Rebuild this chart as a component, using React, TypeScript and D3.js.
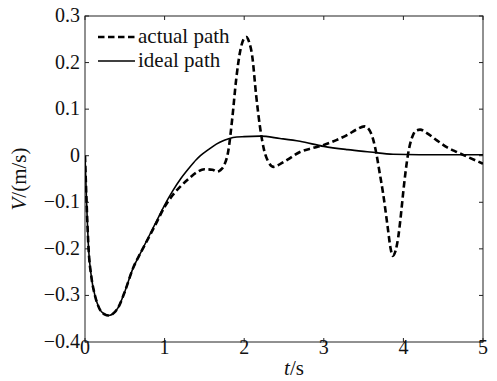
import React from "react";
import * as d3 from "d3";

// Time samples (s) and velocity (m/s) for the ideal path
const idealT = [0, 0.02, 0.045, 0.08, 0.125, 0.18, 0.24, 0.3, 0.36, 0.42, 0.5, 0.6, 0.7, 0.8, 0.9, 1.0, 1.1, 1.2, 1.3, 1.4, 1.45, 1.55, 1.65, 1.75, 1.86, 2.0, 2.2, 2.45, 2.7, 3.0, 3.3, 3.58, 3.87, 4.2, 4.6, 5.0];
const idealV = [0, -0.1, -0.2, -0.26, -0.3, -0.328, -0.34, -0.343, -0.338, -0.325, -0.292, -0.243, -0.208, -0.174, -0.14, -0.106, -0.076, -0.05, -0.028, -0.008, 0.0, 0.013, 0.025, 0.033, 0.039, 0.041, 0.042, 0.037, 0.031, 0.02, 0.013, 0.008, 0.003, 0.002, 0.002, 0.002];

// Time samples (s) and velocity (m/s) for the actual path
const actualT = [0, 0.02, 0.045, 0.08, 0.125, 0.18, 0.24, 0.3, 0.36, 0.42, 0.5, 0.6, 0.7, 0.8, 0.9, 1.0, 1.1, 1.2, 1.3, 1.4, 1.5, 1.6, 1.66, 1.7, 1.75, 1.8, 1.85, 1.9, 1.95, 2.0, 2.03, 2.06, 2.1, 2.15, 2.2, 2.25, 2.3, 2.37, 2.45, 2.55, 2.7, 2.85, 3.0, 3.15, 3.3, 3.42, 3.51, 3.56, 3.62, 3.66, 3.7, 3.745, 3.8, 3.84, 3.865, 3.9, 3.935, 3.97, 4.0, 4.06, 4.12, 4.16, 4.21, 4.3, 4.42, 4.55, 4.67, 4.8, 5.0];
const actualV = [0, -0.1, -0.2, -0.26, -0.3, -0.328, -0.34, -0.343, -0.338, -0.325, -0.292, -0.243, -0.208, -0.176, -0.143, -0.11, -0.085, -0.066, -0.05, -0.036, -0.029, -0.03, -0.034, -0.031, -0.02, 0.01, 0.08, 0.165, 0.225, 0.252, 0.255, 0.245, 0.215, 0.13, 0.06, 0.012, -0.012, -0.024, -0.018, -0.008, 0.008, 0.016, 0.023, 0.033, 0.045, 0.057, 0.063, 0.058, 0.035, 0.005, -0.035, -0.081, -0.15, -0.2, -0.215, -0.205, -0.175, -0.125, -0.075, 0.005, 0.044, 0.054, 0.056, 0.048, 0.033, 0.018, 0.008, -0.002, -0.017];

const xTicks = [0, 1, 2, 3, 4, 5];
const yTicks = [0.3, 0.2, 0.1, 0, -0.1, -0.2, -0.3, -0.4];
const seriesNames = ["actual path", "ideal path"];

const W = 497;
const H = 381;
const left = 85;
const right = 483;
const top = 16;
const bottom = 342;
const serif = '"Liberation Serif", "Times New Roman", serif';

export default function App() {
  const x = d3.scaleLinear().domain([0, 5]).range([left, right]);
  const y = d3.scaleLinear().domain([-0.4, 0.3]).range([bottom, top]);

  const line = d3
    .line<[number, number]>()
    .x((d) => x(d[0]))
    .y((d) => y(d[1]))
    .curve(d3.curveMonotoneX);

  const idealPts = idealT.map((t, i) => [t, idealV[i]] as [number, number]);
  const actualPts = actualT.map((t, i) => [t, actualV[i]] as [number, number]);

  const fmtY = (v: number) => (v === 0 ? "0" : (v < 0 ? "\u2212" : "") + Math.abs(v).toFixed(1));
  const tickLen = 4;
  const axisColor = "#222";

  return (
    <svg width={W} height={H} style={{ position: "absolute", left: 0, top: 0, background: "#fff" }} fontFamily={serif}>
      <rect x={0} y={0} width={W} height={H} fill="#fff" />
      <defs>
        <clipPath id="plot-clip">
          <rect x={left} y={top - 2} width={right - left} height={bottom - top + 4} />
        </clipPath>
      </defs>

      {/* frame */}
      <rect x={left} y={top} width={right - left} height={bottom - top} fill="none" stroke={axisColor} strokeWidth={1} />

      {/* x ticks, bottom and top, pointing inward */}
      {xTicks.map((t) => (
        <g key={"xt" + t}>
          <line x1={x(t)} x2={x(t)} y1={bottom} y2={bottom - tickLen} stroke={axisColor} />
          <line x1={x(t)} x2={x(t)} y1={top} y2={top + tickLen} stroke={axisColor} />
          <text x={x(t)} y={354} fontSize={20} textAnchor="middle" fill="#111">
            {t}
          </text>
        </g>
      ))}

      {/* y ticks, left and right, pointing inward */}
      {yTicks.map((v) => (
        <g key={"yt" + v}>
          <line x1={left} x2={left + tickLen} y1={y(v)} y2={y(v)} stroke={axisColor} />
          <line x1={right} x2={right - tickLen} y1={y(v)} y2={y(v)} stroke={axisColor} />
          <text x={80} y={y(v) + 6} fontSize={20} textAnchor="end" fill="#111">
            {fmtY(v)}
          </text>
        </g>
      ))}

      {/* curves */}
      <g clipPath="url(#plot-clip)">
        <path d={line(idealPts) ?? ""} fill="none" stroke="#000" strokeWidth={1.6} />
        <path d={line(actualPts) ?? ""} fill="none" stroke="#000" strokeWidth={2.6} strokeDasharray="6.5,3.5" />
      </g>

      {/* legend */}
      <line x1={98} x2={135} y1={37} y2={37} stroke="#000" strokeWidth={2.6} strokeDasharray="6.5,3.5" />
      <text x={138} y={43} fontSize={21} fill="#111">
        {seriesNames[0]}
      </text>
      <line x1={98} x2={135} y1={61} y2={61} stroke="#000" strokeWidth={1.6} />
      <text x={138} y={67} fontSize={21} fill="#111">
        {seriesNames[1]}
      </text>

      {/* axis titles */}
      <text x={294} y={375} fontSize={21} textAnchor="middle" fill="#111">
        <tspan fontStyle="italic">t</tspan>/s
      </text>
      <text transform={`translate(26, ${(top + bottom) / 2}) rotate(-90)`} fontSize={21} textAnchor="middle" fill="#111">
        <tspan fontStyle="italic">V</tspan>/(m/s)
      </text>
    </svg>
  );
}
